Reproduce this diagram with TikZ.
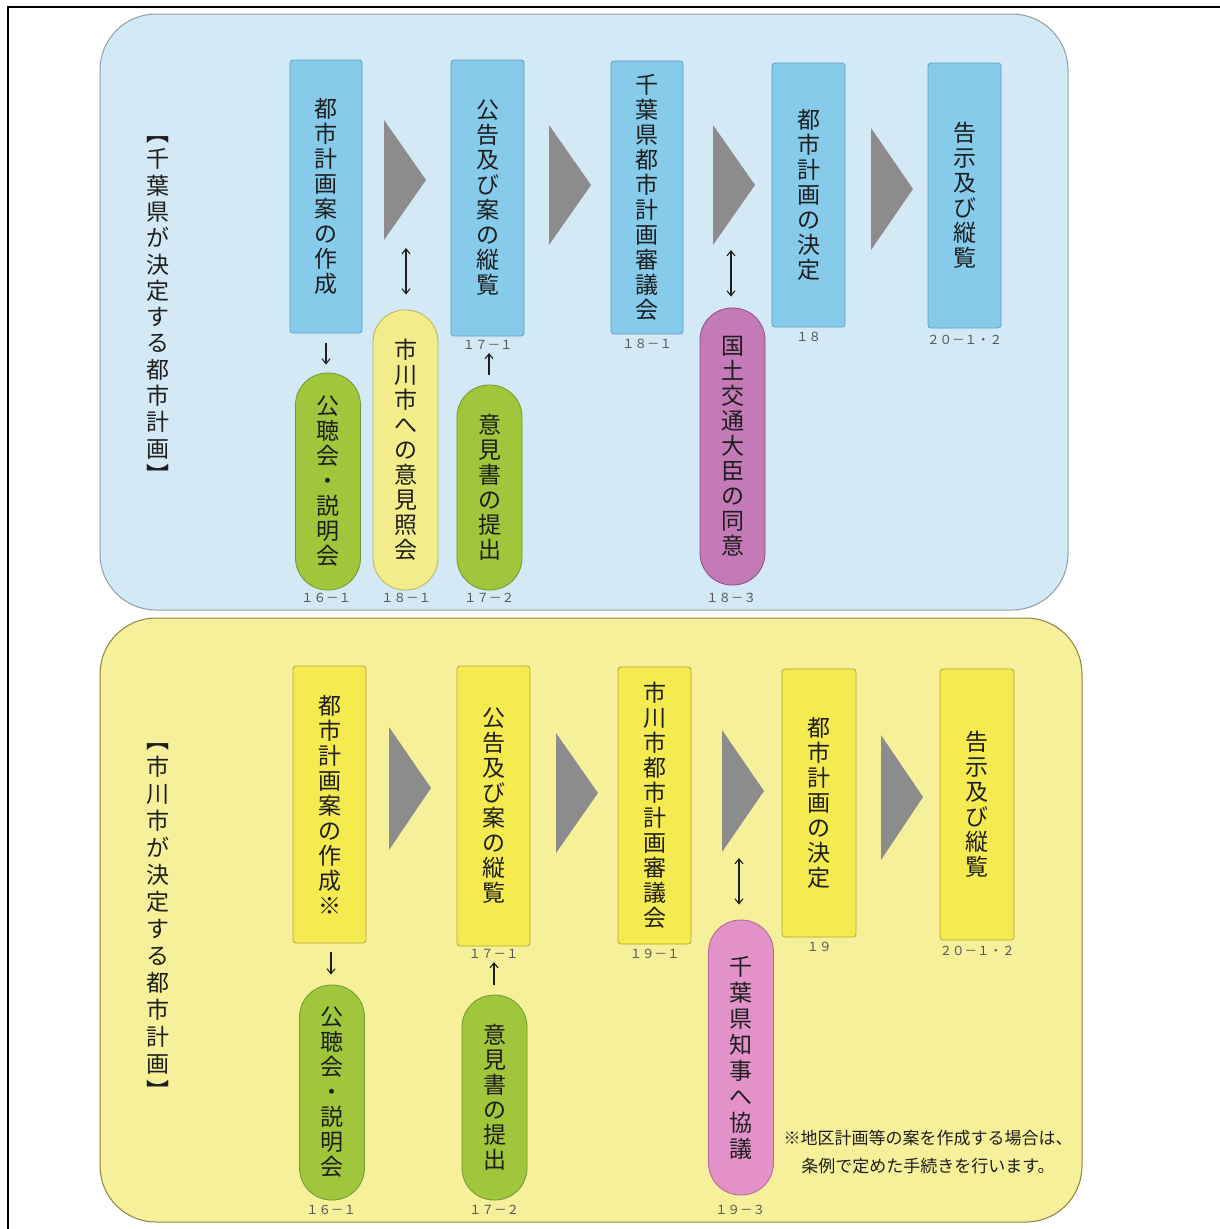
\documentclass[tikz,border=0pt]{standalone}
\usepackage{fontspec}
\newfontfamily\jp{Noto Sans CJK JP}
\usetikzlibrary{arrows.meta,positioning}
\definecolor{panelB}{HTML}{D3E9F5}
\definecolor{panelBd}{HTML}{8C9FAE}
\definecolor{panelY}{HTML}{F6F09B}
\definecolor{panelYd}{HTML}{8A8240}
\definecolor{boxB}{HTML}{87CBEB}
\definecolor{boxBd}{HTML}{5E9FC0}
\definecolor{boxY}{HTML}{F5EB50}
\definecolor{boxYd}{HTML}{B3A635}
\definecolor{chevG}{HTML}{8C8C8C}
\definecolor{ovG}{HTML}{A0C63C}
\definecolor{ovGd}{HTML}{6F9830}
\definecolor{ovY}{HTML}{F2EC8A}
\definecolor{ovYd}{HTML}{B9B25A}
\definecolor{ovM}{HTML}{C47AB6}
\definecolor{ovMd}{HTML}{8C4E84}
\definecolor{ovP}{HTML}{E392C9}
\definecolor{ovPd}{HTML}{AD6898}
\definecolor{txt}{HTML}{1E1E1E}
\definecolor{labc}{HTML}{555555}
\makeatletter
\def\vtEnd{\vtEnd@}
\newcommand\vt[2][25pt]{\vbox{\baselineskip=#1\lineskiplimit=-100pt\lineskip=0pt\vtA#2\vtEnd}}
\def\vtA#1{\ifx#1\vtEnd\else\hbox to 1em{\hss#1\hss}\expandafter\vtA\fi}
\makeatother
\tikzset{
  panelbox/.style={line width=1pt, rounded corners=56pt},
  flowbox/.style={rectangle, rounded corners=3pt, inner sep=0pt, line width=0.8pt,
    text=txt, font=\jp\fontsize{23pt}{25pt}\selectfont},
  bluebox/.style={flowbox, draw=boxBd, fill=boxB},
  yelbox/.style={flowbox, draw=boxYd, fill=boxY},
  stadium/.style={rectangle, rounded corners=32pt, inner sep=0pt, line width=0.8pt,
    minimum width=65pt, text=txt, font=\jp\fontsize{23pt}{25pt}\selectfont},
  greenov/.style={stadium, draw=ovGd, fill=ovG},
  yelov/.style={stadium, draw=ovYd, fill=ovY},
  magov/.style={stadium, draw=ovMd, fill=ovM},
  pinkov/.style={stadium, draw=ovPd, fill=ovP},
  chev/.style={fill=chevG},
  lab/.style={inner sep=0pt, text=labc, font=\jp\fontsize{12.5pt}{13pt}\selectfont},
  title/.style={inner sep=0pt, text=txt, font=\jp\fontsize{23pt}{26pt}\selectfont},
  note/.style={inner sep=0pt, text=txt, align=center, font=\jp\fontsize{17pt}{28pt}\selectfont},
  arr/.style={-{Straight Barb[length=5pt,width=8pt]}, line width=1.1pt, draw=txt},
  darr/.style={{Straight Barb[length=5pt,width=8pt]}-{Straight Barb[length=5pt,width=8pt]}, line width=1.1pt, draw=txt},
}
\begin{document}
\begin{tikzpicture}[x=1pt,y=-1pt]
\useasboundingbox (0,0) rectangle (1219,1229);
\fill[white] (0,0) rectangle (1219,1229);
% outer frame
\draw[line width=2pt] (8,1235) -- (8,7) -- (1225,7);
% panels
\draw[panelbox, draw=panelBd, fill=panelB] (100,14) rectangle (1068,610);
\draw[panelbox, draw=panelYd, fill=panelY] (100,618) rectangle (1082,1222);

% ===== top panel =====
\node[title] (ttl1) at (158,310) {\vt[26.3pt]{︻千葉県が決定する都市計画︼}};
\node[bluebox, minimum width=72pt, minimum height=273pt] (t1) at (326,196.5) {\vt{都市計画案の作成}};
\node[bluebox, minimum width=73pt, minimum height=276pt] (t2) at (487.5,198) {\vt{公告及び案の縦覧}};
\node[bluebox, minimum width=72pt, minimum height=273pt] (t3) at (647,197.5) {\vt{千葉県都市計画審議会}};
\node[bluebox, minimum width=73pt, minimum height=264pt] (t4) at (808.5,195) {\vt{都市計画の決定}};
\node[bluebox, minimum width=73pt, minimum height=265pt] (t5) at (964.5,195.5) {\vt{告示及び縦覧}};
\fill[chev] (384,120) -- (426,180) -- (384,240) -- cycle;
\fill[chev] (549,125) -- (591,185) -- (549,245) -- cycle;
\fill[chev] (713,125) -- (755,185) -- (713,245) -- cycle;
\fill[chev] (871,128) -- (913,189) -- (871,250) -- cycle;
\coordinate (ch1b) at (406,240);
\coordinate (ch3b) at (731,245);
\node[lab, anchor=north] (lt2) at ([yshift=-4pt]t2.south) {１７－１};
\node[lab, anchor=north] (lt3) at ([yshift=-5pt]t3.south) {１８－１};
\node[lab, anchor=north] (lt4) at ([yshift=-5pt]t4.south) {１８};
\node[lab, anchor=north] (lt5) at ([yshift=-7pt]t5.south) {２０－１・２};
\node[greenov, minimum height=217pt] (o1) at (328,481.5) {\vt{公聴会・説明会}};
\node[yelov, minimum height=280pt] (o2) at (405.5,450) {\vt{市川市への意見照会}};
\node[greenov, minimum height=205pt] (o3) at (489.5,487.5) {\vt{意見書の提出}};
\node[magov, minimum height=277pt] (o4) at (732.5,446.5) {\vt{国土交通大臣の同意}};
\node[lab] (lo1) at (326,598) {１６－１};
\node[lab] (lo2) at (406,598) {１８－１};
\node[lab] (lo3) at (489,598) {１７－２};
\node[lab] (lo4) at (731,598) {１８－３};
\draw[arr, shorten <=10pt, shorten >=8pt] (t1.south) -- (t1.south |- o1.north);
\draw[darr, shorten <=8pt, shorten >=15pt] (ch1b) -- (ch1b |- o2.north);
\draw[arr, shorten <=10pt, shorten >=3pt] (lo3 |- o3.north) -- (lo3 |- lt2.south);
\draw[darr, shorten <=5pt, shorten >=11pt] (ch3b) -- (ch3b |- o4.north);

% ===== bottom panel =====
\node[title] (ttl2) at (158,922) {\vt[27pt]{︻市川市が決定する都市計画︼}};
\node[yelbox, minimum width=73pt, minimum height=277pt] (b1) at (329.5,804.5) {\vt{都市計画案の作成※}};
\node[yelbox, minimum width=73pt, minimum height=280pt] (b2) at (493.5,806) {\vt{公告及び案の縦覧}};
\node[yelbox, minimum width=73pt, minimum height=277pt] (b3) at (654.5,805.5) {\vt{市川市都市計画審議会}};
\node[yelbox, minimum width=74pt, minimum height=268pt] (b4) at (819,803) {\vt{都市計画の決定}};
\node[yelbox, minimum width=74pt, minimum height=271pt] (b5) at (977,804.5) {\vt{告示及び縦覧}};
\fill[chev] (389,727) -- (431,788) -- (389,850) -- cycle;
\fill[chev] (556,733) -- (598,793) -- (556,853) -- cycle;
\fill[chev] (722,730) -- (764,791) -- (722,852) -- cycle;
\fill[chev] (881,735) -- (923,797) -- (881,860) -- cycle;
\coordinate (dh3b) at (739,852);
\node[lab, anchor=north] (lb2) at ([yshift=-3pt]b2.south) {１７－１};
\node[lab, anchor=north] (lb3) at ([yshift=-5pt]b3.south) {１９－１};
\node[lab, anchor=north] (lb4) at ([yshift=-5pt]b4.south) {１９};
\node[lab, anchor=north] (lb5) at ([yshift=-6pt]b5.south) {２０－１・２};
\node[greenov, minimum height=215pt] (p1) at (332,1092.5) {\vt{公聴会・説明会}};
\node[greenov, minimum height=205pt] (p2) at (494.5,1097.5) {\vt{意見書の提出}};
\node[pinkov, minimum height=275pt] (p3) at (741,1057.5) {\vt[26pt]{千葉県知事へ協議}};
\node[lab] (lp1) at (331,1210) {１６－１};
\node[lab] (lp2) at (494,1210) {１７－２};
\node[lab] (lp3) at (740,1210) {１９－３};
\draw[arr, shorten <=9pt, shorten >=10pt] (lp1 |- b1.south) -- (lp1 |- p1.north);
\draw[arr, shorten <=10pt, shorten >=3pt] (lp2 |- p2.north) -- (lp2 |- lb2.south);
\draw[darr, shorten <=6pt, shorten >=15pt] (dh3b) -- (dh3b |- p3.north);
\node[note] (nt) at (928,1152) {※地区計画等の案を作成する場合は、\\条例で定めた手続きを行います。};
\end{tikzpicture}
\end{document}
